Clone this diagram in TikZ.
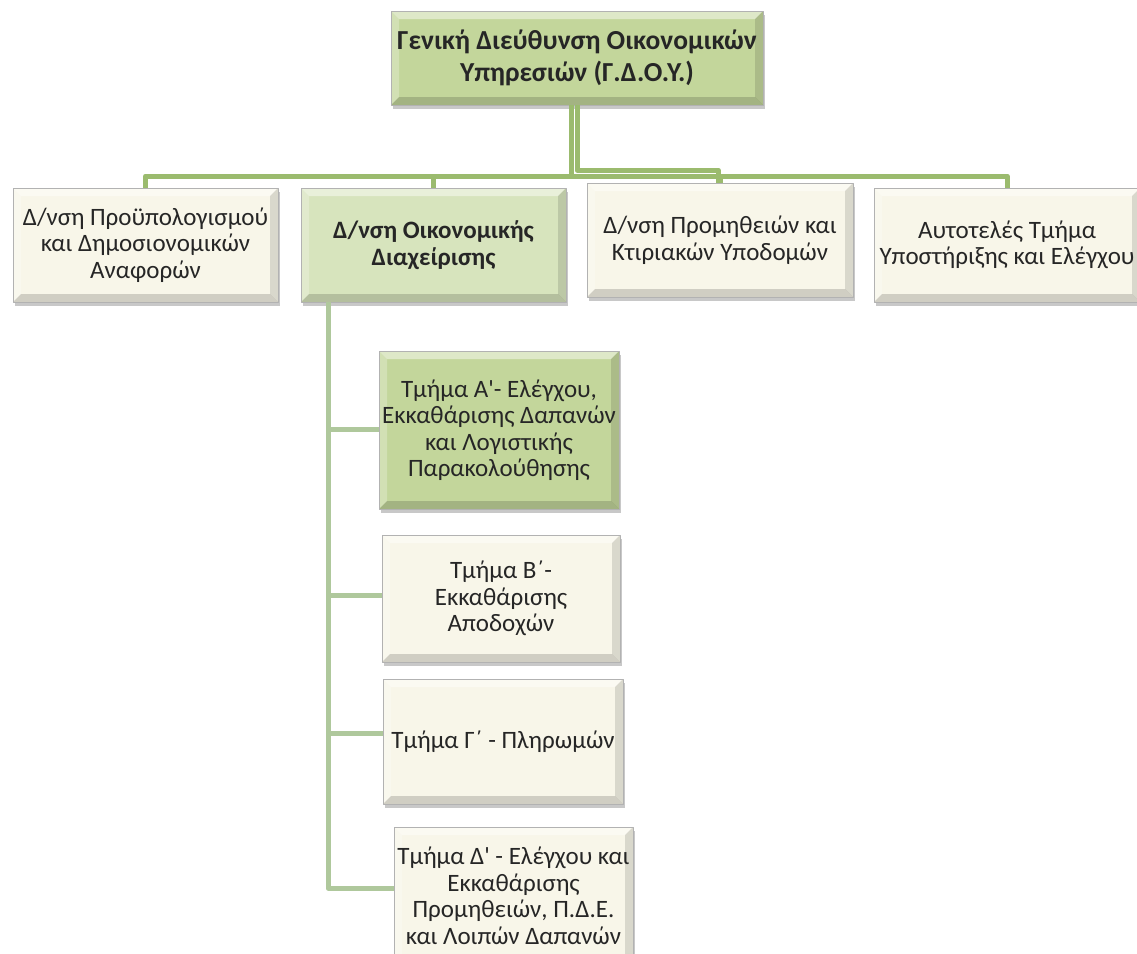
\documentclass[tikz,border=0pt]{standalone}
\usepackage{fontspec}
\setmainfont{Carlito}[Ligatures=TeXOff]
\usetikzlibrary{shadows}

\definecolor{boxgreen}{HTML}{C3D69B}
\definecolor{boxpale}{HTML}{D7E4BD}
\definecolor{boxcream}{HTML}{F8F6E9}
\definecolor{linkgreen}{HTML}{9BBB6E}
\definecolor{spinegreen}{HTML}{AFC89C}

\begin{document}
\begin{tikzpicture}[
    x=1pt,
    y=-1pt,
    line cap=butt,
    line join=round,
    unitbox/.style={
        draw=black!30,
        line width=0.8pt,
        align=center,
        inner sep=0pt,
        text=black!85,
        font=\fontsize{25}{26.5}\selectfont,
        drop shadow={shadow xshift=2pt, shadow yshift=-4pt, opacity=0.3, fill=black!70},
        path picture={
            \fill[white, opacity=0.45] (path picture bounding box.north west) -- (path picture bounding box.north east)
                -- ([xshift=-8pt,yshift=-8pt]path picture bounding box.north east) -- ([xshift=8pt,yshift=-8pt]path picture bounding box.north west) -- cycle;
            \fill[white, opacity=0.25] (path picture bounding box.north west) -- (path picture bounding box.south west)
                -- ([xshift=8pt,yshift=8pt]path picture bounding box.south west) -- ([xshift=8pt,yshift=-8pt]path picture bounding box.north west) -- cycle;
            \fill[black, opacity=0.12] (path picture bounding box.north east) -- (path picture bounding box.south east)
                -- ([xshift=-8pt,yshift=8pt]path picture bounding box.south east) -- ([xshift=-8pt,yshift=-8pt]path picture bounding box.north east) -- cycle;
            \fill[black, opacity=0.16] (path picture bounding box.south west) -- (path picture bounding box.south east)
                -- ([xshift=-8pt,yshift=8pt]path picture bounding box.south east) -- ([xshift=8pt,yshift=8pt]path picture bounding box.south west) -- cycle;
        }
    },
    greenbox/.style={unitbox, fill=boxgreen},
    palebox/.style={unitbox, fill=boxpale},
    creambox/.style={unitbox, fill=boxcream},
    link/.style={draw=linkgreen, line width=5pt},
    sublink/.style={draw=spinegreen, line width=5pt}
]
    \useasboundingbox[fill=white] (0,0) rectangle (1137,953);

    % Head office
    \node[greenbox, minimum width=372, minimum height=94, font=\bfseries\fontsize{27.5}{32}\selectfont] (gdoy) at (577,58)
        {Γενική Διεύθυνση Οικονομικών\\Υπηρεσιών (Γ.Δ.Ο.Υ.)};

    % Directorates
    \node[creambox, minimum width=265, minimum height=114] (budget) at (145.5,245)
        {Δ/νση Προϋπολογισμού\\και Δημοσιονομικών\\Αναφορών};
    \node[palebox, minimum width=265, minimum height=114, font=\bfseries\fontsize{25}{26.5}\selectfont] (finmgmt) at (433.5,245)
        {Δ/νση Οικονομικής\\Διαχείρισης};
    \node[creambox, minimum width=266, minimum height=114] (supplies) at (720,240)
        {Δ/νση Προμηθειών και\\Κτιριακών Υποδομών};
    \node[creambox, minimum width=266, minimum height=114] (audit) at (1007,245)
        {Αυτοτελές Τμήμα\\Υποστήριξης και Ελέγχου};

    % Departments
    \node[greenbox, minimum width=240, minimum height=158] (deptA) at (499,430)
        {Τμήμα Α'- Ελέγχου,\\Εκκαθάρισης Δαπανών\\και Λογιστικής\\Παρακολούθησης};
    \node[creambox, minimum width=238, minimum height=127] (deptB) at (501,598.5)
        {Τμήμα Β΄-\\Εκκαθάρισης\\Αποδοχών};
    \node[creambox, minimum width=240, minimum height=125] (deptC) at (503,741.5)
        {Τμήμα Γ΄ - Πληρωμών};
    \node[creambox, minimum width=239, minimum height=138] (deptD) at (513.5,896)
        {Τμήμα Δ' - Ελέγχου και\\Εκκαθάρισης\\Προμηθειών, Π.Δ.Ε.\\και Λοιπών Δαπανών};

    % Connectors
    \coordinate (bus) at (571,176);
    \coordinate (busB) at (577,170);
    \coordinate (spine) at (328,0);

    \foreach \n in {budget,finmgmt,supplies,audit} {
        \draw[link] (gdoy.south -| bus) -- (bus) -| (\n.north);
    }
    \draw[link] (gdoy.south -| busB) -- (busB) -| ([xshift=-2pt]supplies.north);

    \foreach \n/\dy in {deptA/1,deptB/3,deptC/8,deptD/8} {
        \draw[sublink] (finmgmt.south -| spine) |- ([yshift=\dy pt]\n.west);
    }
\end{tikzpicture}
\end{document}
